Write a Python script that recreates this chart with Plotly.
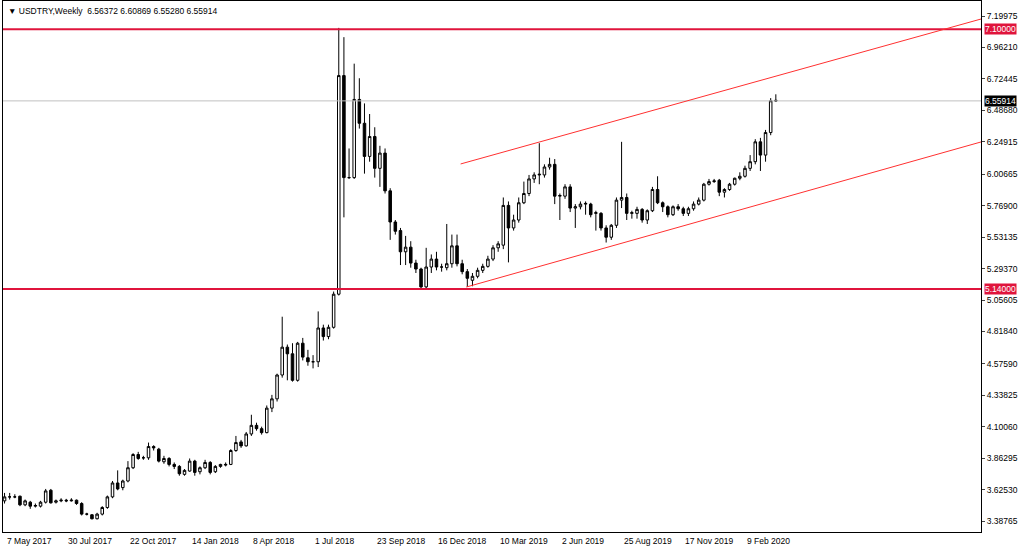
import pandas as pd
import plotly.graph_objects as go

start_date = "2017-05-07"
ohlc = [
(3.54,3.60,3.52,3.57),(3.57,3.60,3.55,3.57),(3.57,3.59,3.56,3.57),(3.575,3.58,3.50,3.51),
(3.51,3.55,3.50,3.54),(3.53,3.54,3.48,3.50),(3.50,3.52,3.49,3.505),(3.50,3.54,3.49,3.53),
(3.53,3.63,3.52,3.615),(3.62,3.63,3.52,3.525),(3.53,3.55,3.52,3.54),(3.54,3.56,3.53,3.545),
(3.545,3.555,3.53,3.54),(3.54,3.56,3.535,3.545),(3.545,3.55,3.51,3.52),(3.52,3.53,3.43,3.44),
(3.44,3.45,3.43,3.44),(3.435,3.44,3.40,3.405),(3.405,3.45,3.40,3.44),(3.44,3.50,3.43,3.49),
(3.49,3.58,3.48,3.57),(3.57,3.69,3.56,3.675),(3.675,3.77,3.62,3.63),(3.64,3.70,3.62,3.69),
(3.69,3.84,3.68,3.79),(3.79,3.90,3.78,3.89),(3.89,3.91,3.85,3.86),(3.865,3.88,3.85,3.865),
(3.865,3.98,3.85,3.95),(3.95,3.96,3.92,3.94),(3.93,3.94,3.83,3.84),(3.835,3.88,3.82,3.86),
(3.86,3.87,3.80,3.815),(3.815,3.83,3.78,3.80),(3.80,3.81,3.73,3.745),(3.74,3.78,3.73,3.77),
(3.765,3.86,3.76,3.84),(3.84,3.85,3.73,3.755),(3.76,3.80,3.74,3.79),(3.79,3.85,3.78,3.83),
(3.83,3.84,3.74,3.755),(3.76,3.81,3.75,3.80),(3.80,3.82,3.79,3.815),(3.81,3.83,3.80,3.815),
(3.815,3.93,3.81,3.92),(3.92,4.03,3.91,3.98),(3.985,4.00,3.94,3.955),(3.955,4.06,3.95,4.045),
(4.045,4.19,4.03,4.11),(4.11,4.13,4.07,4.085),(4.085,4.10,4.04,4.055),(4.055,4.26,4.05,4.24),
(4.24,4.34,4.21,4.31),(4.31,4.50,4.29,4.49),(4.49,4.93,4.47,4.70),(4.70,4.72,4.45,4.65),
(4.65,4.73,4.44,4.45),(4.45,4.74,4.44,4.73),(4.73,4.77,4.60,4.625),(4.62,4.68,4.56,4.59),
(4.59,4.64,4.54,4.59),(4.59,4.97,4.55,4.845),(4.845,4.87,4.75,4.78),(4.78,4.87,4.76,4.85),
(4.85,5.12,4.84,5.10),(5.10,7.11,5.09,6.75),(6.75,7.04,5.68,5.98),(5.98,6.20,5.97,5.98),
(5.98,6.84,5.97,6.57),(6.57,6.73,6.35,6.39),(6.39,6.54,6.01,6.14),(6.14,6.46,6.10,6.29),
(6.29,6.36,5.98,6.05),(6.05,6.22,5.91,6.165),(6.165,6.20,5.86,5.88),(5.88,5.90,5.51,5.645),
(5.645,5.66,5.55,5.575),(5.58,5.60,5.32,5.42),(5.42,5.54,5.32,5.455),(5.455,5.50,5.30,5.335),
(5.335,5.36,5.26,5.29),(5.29,5.30,5.14,5.155),(5.155,5.45,5.14,5.305),(5.305,5.40,5.26,5.365),
(5.365,5.42,5.28,5.305),(5.305,5.33,5.27,5.305),(5.30,5.63,5.28,5.33),(5.33,5.55,5.30,5.465),
(5.465,5.55,5.31,5.33),(5.33,5.36,5.25,5.27),(5.27,5.29,5.155,5.22),(5.205,5.26,5.16,5.235),
(5.235,5.30,5.22,5.28),(5.28,5.33,5.26,5.31),(5.31,5.39,5.30,5.365),(5.365,5.47,5.35,5.45),
(5.45,5.50,5.42,5.48),(5.47,5.83,5.44,5.77),(5.77,5.80,5.34,5.60),(5.60,5.70,5.58,5.66),
(5.66,5.83,5.64,5.79),(5.79,5.95,5.78,5.86),(5.86,6.00,5.84,5.97),(5.97,6.02,5.94,6.00),
(6.00,6.24,5.93,6.005),(6.00,6.08,5.98,6.06),(6.06,6.13,6.04,6.08),(6.08,6.12,5.78,5.84),
(5.84,5.86,5.66,5.845),(5.84,5.93,5.82,5.91),(5.91,5.93,5.72,5.75),(5.75,5.78,5.60,5.76),
(5.76,5.80,5.74,5.78),(5.78,5.80,5.70,5.785),(5.78,5.79,5.68,5.70),(5.71,5.73,5.58,5.715),
(5.71,5.72,5.58,5.60),(5.60,5.62,5.49,5.53),(5.53,5.63,5.51,5.62),(5.62,5.83,5.60,5.81),
(5.81,6.25,5.75,5.83),(5.83,5.86,5.66,5.71),(5.71,5.73,5.67,5.715),(5.71,5.76,5.67,5.74),
(5.74,5.75,5.64,5.66),(5.66,5.74,5.63,5.73),(5.73,5.91,5.72,5.89),(5.89,5.99,5.78,5.79),
(5.79,5.80,5.72,5.76),(5.76,5.77,5.68,5.70),(5.70,5.77,5.69,5.76),(5.76,5.78,5.73,5.745),
(5.745,5.76,5.69,5.71),(5.71,5.76,5.69,5.745),(5.745,5.80,5.73,5.78),(5.78,5.83,5.77,5.81),
(5.81,5.94,5.80,5.93),(5.93,5.97,5.92,5.95),(5.95,5.97,5.94,5.955),(5.96,5.97,5.84,5.87),
(5.87,5.90,5.83,5.89),(5.89,5.94,5.88,5.93),(5.93,5.98,5.92,5.975),(5.975,6.02,5.96,5.99),
(5.99,6.07,5.98,6.05),(6.05,6.15,6.03,6.10),(6.10,6.27,6.08,6.25),(6.25,6.28,6.03,6.15),
(6.15,6.34,6.10,6.32),(6.32,6.58,6.30,6.56),(6.56372,6.60869,6.55280,6.55914),
]
opens = [r[0] for r in ohlc]
highs = [r[1] for r in ohlc]
lows = [r[2] for r in ohlc]
closes = [r[3] for r in ohlc]

y_ticks = [7.19975,6.96210,6.72445,6.48680,6.24915,6.00665,5.76900,5.53135,5.29370,
           5.05605,4.81840,4.57590,4.33825,4.10060,3.86295,3.62530,3.38765]
x_tick_labels = ["7 May 2017","30 Jul 2017","22 Oct 2017","14 Jan 2018","8 Apr 2018",
                 "1 Jul 2018","23 Sep 2018","16 Dec 2018","10 Mar 2019","2 Jun 2019",
                 "25 Aug 2019","17 Nov 2019","9 Feb 2020"]
levels = [7.10, 5.14]
last_price = 6.55914
channel_upper = [(88.7, 6.083), (189.9, 7.177)]
channel_lower = [(89.8, 5.154), (189.9, 6.249)]
header = "USDTRY,Weekly  6.56372 6.60869 6.55280 6.55914"

FONT = dict(size=8.5, family="Liberation Sans", color="black")
t0 = pd.Timestamp(start_date)
dates = pd.date_range(start_date, periods=len(ohlc), freq="7D")
def wk(i):
    return t0 + pd.Timedelta(days=7 * i)

fig = go.Figure(go.Candlestick(
    x=dates, open=opens, high=highs, low=lows, close=closes,
    increasing=dict(fillcolor="white", line=dict(color="black", width=1)),
    decreasing=dict(fillcolor="black", line=dict(color="black", width=1)),
    whiskerwidth=0, hoverinfo="skip", showlegend=False))

RED = "#e0143c"
shapes = []
annotations = []
for lv in levels:
    shapes.append(dict(type="line", xref="paper", x0=0, x1=1, y0=lv, y1=lv,
                       line=dict(color=RED, width=2)))
    annotations.append(dict(xref="paper", x=1.003, y=lv, text=f"{lv:.5f}", showarrow=False,
                            xanchor="left", bgcolor=RED, font=dict(FONT, color="white"),
                            borderpad=0))
shapes.append(dict(type="line", xref="paper", x0=0, x1=1, y0=last_price, y1=last_price,
                   line=dict(color="#c0c0c0", width=1)))
annotations.append(dict(xref="paper", x=1.003, y=last_price, text=f"{last_price:.5f}",
                        showarrow=False, xanchor="left", bgcolor="black",
                        font=dict(FONT, color="white"), borderpad=0))
for ch in (channel_upper, channel_lower):
    shapes.append(dict(type="line", x0=wk(ch[0][0]), y0=ch[0][1], x1=wk(ch[1][0]), y1=ch[1][1],
                       line=dict(color="#ff3030", width=1)))
for k, lab in enumerate(x_tick_labels):
    annotations.append(dict(x=wk(12 * k), xref="x", yref="paper", y=0, yshift=-2,
                            text=lab, showarrow=False, xanchor="left", yanchor="top",
                            font=FONT))
annotations.append(dict(xref="paper", yref="paper", x=0.003, y=0.995, text="▼ " + header,
                        showarrow=False, xanchor="left", yanchor="top", font=FONT))

fig.update_layout(
    width=1024, height=550, margin=dict(l=3, r=43, t=1, b=18, autoexpand=False),
    paper_bgcolor="white", plot_bgcolor="white",
    shapes=shapes, annotations=annotations,
    xaxis=dict(range=[wk(-0.3), wk(189.9)], rangeslider=dict(visible=False),
               showticklabels=False, showgrid=False, zeroline=False,
               showline=True, linecolor="black", mirror=True),
    yaxis=dict(side="right", range=[3.305, 7.313], tickvals=y_ticks,
               ticktext=[f"{v:.5f}" for v in y_ticks], ticks="outside", ticklen=3,
               tickfont=FONT,
               showgrid=False, zeroline=False, showline=True, linecolor="black", mirror=True),
)
fig.write_html("out.html", config={"displayModeBar": False},
               post_script="document.body.style.margin='0';document.body.style.overflow='hidden';")
